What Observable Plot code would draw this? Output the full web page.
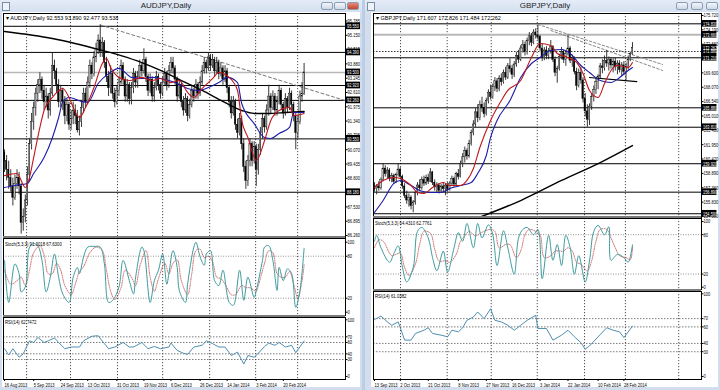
<!DOCTYPE html>
<html><head><meta charset="utf-8">
<script src="https://cdn.jsdelivr.net/npm/d3@7"></script>
<script src="https://cdn.jsdelivr.net/npm/@observablehq/plot@0.6"></script>
<style>
body{margin:0;width:720px;height:390px;overflow:hidden;background:#bccde4;font-family:"Liberation Sans",Arial,sans-serif;position:relative}
.a{position:absolute}
.win{position:absolute;top:0;height:390px;background:linear-gradient(#e4ecf7,#d2deee 14px,#d2deee)}
.title{position:absolute;top:0;height:12px;font-size:8px;text-align:center;line-height:12px;color:#1e1e1e}
.chart{position:absolute;background:#fff}
.hdr{position:absolute;font-size:5.5px;line-height:6px;color:#000;white-space:nowrap;transform-origin:0 0}
.sep{position:absolute;background:#7b7b7b}
.btn{position:absolute;top:2px;width:10px;height:6px;border:1px solid #8b9db3;border-radius:2px;background:linear-gradient(#f4f7fb,#cdd9e7)}
.ico{position:absolute;top:2px;width:6px;height:7px;border:1px solid #7d8fa8;background:#eef3f9}
svg{overflow:visible}
</style></head><body>
<script>
// ---------------- AUDJPY (left) ----------------
const audO = [89.94,89.56,89.18,88.81,88.44,87.94,88.56,88.81,88.44,86.82,
87.07,87.82,88.94,90.31,91.31,91.93,92.56,92.93,93.18,92.68,
92.18,92.43,91.81,92.56,93.80,93.55,92.93,92.18,92.68,92.18,
91.56,92.06,91.18,91.43,91.81,91.56,90.93,91.31,91.93,92.56,
92.18,93.05,93.80,93.43,94.17,94.55,94.92,94.42,94.80,93.93,
93.30,92.80,93.43,92.56,92.18,92.68,93.05,93.80,93.18,92.43,
92.93,92.31,92.80,93.43,93.05,93.30,93.80,93.55,94.05,93.30,
92.68,93.18,92.43,92.80,93.30,92.93,92.56,93.05,93.43,92.93,
93.55,93.93,93.68,93.18,92.43,92.93,92.18,91.81,92.31,91.56,
92.06,92.68,92.43,92.93,92.56,93.05,93.55,93.93,93.68,94.17,
93.80,94.05,93.55,93.93,93.43,93.68,93.18,93.55,92.80,92.18,
91.68,92.18,91.18,90.81,91.43,90.31,89.31,88.69,89.56,90.31,
89.56,90.18,89.18,90.06,90.81,91.43,91.06,91.81,92.43,91.93,
92.43,91.81,92.18,92.68,92.06,91.68,92.31,91.93,92.56,92.06,
91.56,90.81,91.31,92.43,92.55];
const audH = [90.06,89.81,89.56,89.18,88.81,88.94,89.18,89.06,88.56,87.44,
88.06,89.31,90.56,91.68,92.18,92.80,93.18,93.49,93.30,92.93,
92.80,92.56,92.80,94.36,94.05,93.68,93.18,92.93,92.80,92.43,
92.31,92.18,91.81,92.18,92.06,91.81,91.56,92.18,92.80,92.80,
93.30,94.05,93.93,94.42,94.80,95.17,95.61,95.05,94.92,94.17,
93.55,93.80,93.55,92.80,92.93,93.30,94.05,93.93,93.30,93.18,
93.05,93.05,93.68,93.55,93.55,94.05,93.93,94.55,94.17,93.43,
93.43,93.30,93.05,93.55,93.43,93.05,93.30,93.68,93.55,93.80,
94.17,94.17,93.80,93.30,93.18,93.05,92.43,92.56,92.43,92.31,
92.93,92.80,93.18,93.05,93.30,93.80,94.17,94.05,94.36,94.30,
94.30,94.17,94.17,94.05,93.93,93.80,93.80,93.68,92.93,92.43,
92.43,92.31,91.43,91.68,91.56,90.56,89.56,89.81,90.56,90.43,
90.43,90.31,90.31,91.06,91.68,91.56,92.06,92.93,92.56,92.68,
92.56,92.43,92.93,92.80,92.18,92.56,92.43,92.80,92.68,92.18,
91.68,91.56,92.68,93.05,93.90];
const audL = [89.06,88.69,88.31,88.19,87.57,87.82,88.31,88.06,86.32,86.45,
86.82,87.57,88.69,90.06,90.93,91.56,92.18,92.56,92.31,91.81,
91.93,91.43,91.56,92.43,93.18,92.56,91.93,91.93,91.81,91.18,
91.31,90.93,90.93,91.18,91.18,90.81,90.68,91.06,91.68,91.93,
92.06,92.80,93.18,93.30,93.93,94.30,94.17,94.17,93.68,93.05,
92.43,92.56,92.31,91.93,92.06,92.43,92.93,92.93,92.18,92.18,
92.06,92.06,92.56,92.80,92.80,93.18,93.30,93.43,93.05,92.43,
92.56,92.18,92.18,92.68,92.68,92.31,92.43,92.93,92.68,92.80,
93.43,93.43,92.93,92.18,92.31,91.93,91.56,91.68,91.31,91.43,
91.93,92.18,92.31,92.31,92.43,92.93,93.43,93.43,93.55,93.55,
93.68,93.30,93.43,93.18,93.30,92.93,93.05,92.56,91.93,91.43,
91.56,90.93,90.56,90.68,90.06,89.06,88.31,88.44,89.31,89.31,
89.43,88.44,88.94,89.81,90.56,90.81,90.93,91.56,91.68,91.81,
91.56,91.56,92.06,91.81,91.43,91.56,91.68,91.81,91.81,91.31,
90.06,90.56,91.18,92.18,92.48];
const audC = [89.56,89.18,88.81,88.44,87.94,88.56,88.81,88.44,86.82,87.07,
87.82,88.94,90.31,91.31,91.93,92.56,92.93,93.18,92.68,92.18,
92.43,91.81,92.56,93.80,93.55,92.93,92.18,92.68,92.18,91.56,
92.06,91.18,91.43,91.81,91.56,90.93,91.31,91.93,92.56,92.18,
93.05,93.80,93.43,94.17,94.55,94.92,94.42,94.80,93.93,93.30,
92.80,93.43,92.56,92.18,92.68,93.05,93.80,93.18,92.43,92.93,
92.31,92.80,93.43,93.05,93.30,93.80,93.55,94.05,93.30,92.68,
93.18,92.43,92.80,93.30,92.93,92.56,93.05,93.43,92.93,93.55,
93.93,93.68,93.18,92.43,92.93,92.18,91.81,92.31,91.56,92.06,
92.68,92.43,92.93,92.56,93.05,93.55,93.93,93.68,94.17,93.80,
94.05,93.55,93.93,93.43,93.68,93.18,93.55,92.80,92.18,91.68,
92.18,91.18,90.81,91.43,90.31,89.31,88.69,89.56,90.31,89.56,
90.18,89.18,90.06,90.81,91.43,91.06,91.81,92.43,91.93,92.43,
91.81,92.18,92.68,92.06,91.68,92.31,91.93,92.56,92.06,91.56,
90.81,91.31,92.43,92.55,93.50];
const audMaBlack = [[0,95.32],[23,95.01],[47,94.48],[56,94.25],[66,93.94],[75,93.59],[85,93.14],[95,92.70],[104,92.26],[114,91.81],[120,91.68],[127,91.68],[135,91.72],[144,91.77]];
const audMaRed = [[0,88.92],[6,89.01],[10,88.39],[12,88.84],[14,89.72],[17,91.06],[19,91.81],[23,92.39],[28,92.79],[31,92.39],[33,91.95],[36,91.50],[39,91.95],[43,92.83],[47,93.90],[49,94.12],[51,93.72],[55,93.28],[60,93.14],[66,93.28],[71,93.14],[75,93.23],[80,93.05],[84,93.14],[88,92.61],[91,92.39],[95,92.79],[100,93.23],[103,93.50],[108,93.28],[112,92.70],[114,91.37],[117,90.61],[121,89.59],[125,90.48],[128,91.37],[132,91.81],[137,91.95],[139,91.59],[144,91.68]];
const audMaBlue = [[0,88.39],[5,88.48],[11,88.57],[14,89.01],[19,89.72],[23,90.60],[26,91.50],[28,92.20],[31,92.39],[37,92.21],[40,92.17],[45,93.01],[50,93.45],[55,93.68],[61,93.28],[66,93.23],[71,93.28],[75,93.23],[82,93.05],[88,92.79],[93,92.70],[98,92.83],[103,93.05],[107,93.28],[112,93.05],[114,92.12],[120,91.23],[125,90.61],[128,90.57],[132,90.79],[137,91.06],[139,91.72],[144,91.72]];
const audTrend = [[46,95.61],[163.5,92.26]];
const audLevels = [95.55, 94.39, 92.92, 92.26, 90.55, 88.18];
const audBid = 93.50;
const audTicks = [86.260,86.895,87.530,88.800,89.435,90.070,90.705,91.340,91.975,92.610,93.245,93.880,94.515,95.150,95.785];
const audStochK = [[0,74],[2,14],[5,69],[7,55],[8,29],[10,36],[12,93],[14,98],[16,95],[18,74],[20,29],[22,50],[24,83],[26,50],[28,26],[31,14],[33,50],[35,64],[36,55],[38,79],[40,93],[43,94],[46,93],[48,69],[50,14],[52,17],[55,36],[57,74],[60,45],[62,26],[63,50],[66,93],[67,88],[70,14],[72,45],[74,60],[76,83],[78,40],[79,55],[81,88],[83,64],[84,31],[87,14],[88,40],[91,93],[92,100],[94,79],[96,67],[97,83],[99,88],[101,45],[103,38],[105,60],[108,14],[110,10],[113,60],[115,17],[117,50],[120,21],[121,31],[124,74],[125,93],[127,95],[129,74],[131,31],[132,64],[134,45],[136,62],[138,55],[140,7],[142,31],[144,91.3]];
const audStochD = [[0,60],[3,40],[6,45],[8,50],[10,38],[12,60],[14,85],[17,95],[19,82],[21,55],[23,55],[25,70],[27,60],[29,38],[32,25],[34,40],[36,58],[38,65],[41,85],[44,93],[47,88],[49,60],[51,30],[53,18],[56,35],[58,60],[61,50],[63,38],[65,65],[68,88],[70,50],[72,30],[74,48],[77,70],[79,55],[81,70],[83,75],[85,45],[88,25],[90,55],[92,88],[94,90],[96,78],[98,80],[100,72],[102,50],[104,48],[106,40],[109,25],[111,25],[114,38],[116,35],[118,35],[121,30],[122,38],[125,70],[127,88],[129,85],[131,55],[133,50],[135,50],[137,58],[139,40],[141,20],[143,45],[144,67.6]];
const audRsi = [[0,49],[2,38],[4,49],[7,34],[9,40],[12,63],[14,60],[16,69],[19,60],[21,63],[24,68],[26,60],[29,49],[32,52],[36,52],[38,63],[42,71],[45,72],[48,58],[50,49],[53,52],[57,60],[60,52],[62,52],[66,60],[69,49],[72,53],[75,49],[79,52],[80,59],[83,46],[86,41],[88,39],[91,52],[95,55],[97,63],[100,58],[103,52],[106,52],[109,37],[112,43],[115,22],[117,37],[120,34],[122,41],[125,53],[127,59],[130,55],[132,60],[135,52],[138,55],[140,42],[144,62.7]];
const audGrid = [10.6,31.7,54.3,76,98.6,120.7,140.9];
const audDateIdx = [0,14,27,40,54,67,80,94,107,121,134];
const audDateLabels = ["16 Aug 2013","5 Sep 2013","24 Sep 2013","13 Oct 2013","31 Oct 2013","19 Nov 2013","6 Dec 2013","26 Dec 2013","14 Jan 2014","3 Feb 2014","20 Feb 2014"];

// ---------------- GBPJPY (right) ----------------
const gbpO = [157.6,157.2,157.5,157.3,158.2,159.4,158.8,159.2,158.3,158.6,
158.0,158.7,159.3,158.5,157.5,156.5,156.0,156.3,155.4,155.8,
156.8,157.6,157.3,158.2,157.8,158.4,158.0,159.0,157.9,157.4,
157.6,157.0,157.5,157.2,157.6,157.1,157.8,158.3,157.7,158.8,
158.5,159.9,160.6,161.3,160.7,162.0,163.2,164.1,165.4,164.8,
166.2,165.9,165.2,166.6,167.5,167.0,168.1,168.7,167.9,169.0,
168.6,169.6,169.1,170.3,170.0,169.4,170.5,171.4,171.0,172.2,
172.6,171.8,173.0,173.5,172.8,173.9,173.6,173.4,172.2,171.2,
172.0,171.4,171.9,172.4,171.0,169.6,170.0,171.3,171.8,171.0,
171.6,172.2,170.9,171.2,169.7,168.2,169.6,168.8,166.8,165.5,
164.6,166.0,167.0,167.8,168.6,169.2,170.3,170.1,170.9,170.6,
171.0,170.4,170.8,170.2,170.6,169.9,170.4,169.7,170.2,171.0,
171.607];
const gbpH = [157.9,157.7,158.0,158.4,159.9,159.7,159.5,159.4,158.9,158.8,
158.9,159.9,159.5,158.7,157.8,157.0,156.7,156.5,156.0,157.0,
157.9,158.2,158.5,158.6,158.7,158.8,159.4,159.1,158.2,157.9,
157.8,157.7,157.9,157.8,157.9,158.0,158.6,158.5,159.0,159.3,
160.2,161.0,161.7,161.5,162.4,163.5,164.5,165.8,166.2,166.6,
167.0,166.4,166.9,167.8,168.3,168.4,169.1,169.0,169.3,169.5,
169.9,170.2,170.6,171.1,170.4,170.8,171.8,172.0,172.5,173.05,
172.9,173.3,173.9,173.8,174.2,174.3,174.65,173.6,172.7,172.3,
172.4,172.2,173.05,172.5,171.3,170.3,171.6,172.3,172.0,171.9,
173.6,172.4,171.5,171.3,170.1,170.0,170.2,169.1,167.4,166.2,
166.3,167.4,168.2,169.1,169.4,170.6,171.0,171.4,172.0,171.3,
171.2,171.1,171.2,170.9,170.9,170.7,170.8,170.6,171.4,171.8,
172.826];
const gbpL = [156.9,156.6,157.0,157.1,158.0,158.5,158.3,158.0,157.9,157.7,
157.8,158.5,158.2,157.2,156.2,155.6,155.3,155.0,154.7,155.5,
156.5,157.0,157.1,157.5,157.6,157.7,157.9,157.6,157.0,156.8,
156.7,156.8,156.9,156.5,156.9,157.0,157.5,157.4,157.6,158.2,
158.4,159.5,160.0,160.3,160.5,161.8,162.9,163.8,164.3,164.5,
165.4,164.8,165.0,166.3,166.7,166.8,167.6,167.5,167.6,168.2,
168.4,168.8,168.9,169.6,168.9,169.1,170.2,170.6,170.8,171.7,
171.4,171.5,172.5,172.4,172.6,173.2,173.1,171.9,170.8,170.9,
171.0,171.0,171.6,170.7,169.2,168.5,169.8,171.0,170.6,170.3,
171.4,170.6,170.2,169.4,167.7,168.0,168.4,166.4,164.9,163.8,
164.0,165.6,166.5,167.3,167.8,168.9,169.5,169.8,170.2,169.8,
170.0,169.6,169.8,169.4,169.6,169.2,169.3,168.8,169.9,170.8,
171.484];
const gbpC = [157.2,157.5,157.3,158.2,159.4,158.8,159.2,158.3,158.6,158.0,
158.7,159.3,158.5,157.5,156.5,156.0,156.3,155.4,155.8,156.8,
157.6,157.3,158.2,157.8,158.4,158.0,159.0,157.9,157.4,157.6,
157.0,157.5,157.2,157.6,157.1,157.8,158.3,157.7,158.8,158.5,
159.9,160.6,161.3,160.7,162.0,163.2,164.1,165.4,164.8,166.2,
165.9,165.2,166.6,167.5,167.0,168.1,168.7,167.9,169.0,168.6,
169.6,169.1,170.3,170.0,169.4,170.5,171.4,171.0,172.2,172.6,
171.8,173.0,173.5,172.8,173.9,173.6,173.4,172.2,171.2,172.0,
171.4,171.9,172.4,171.0,169.6,170.0,171.3,171.8,171.0,171.6,
172.2,170.9,171.2,169.7,168.2,169.6,168.8,166.8,165.5,164.6,
166.0,167.0,167.8,168.6,169.2,170.3,170.1,170.9,170.6,171.0,
170.4,170.8,170.2,170.6,169.9,170.4,169.7,170.2,171.0,171.6,
172.262];
const gbpMaRed = [[0,157.39],[4,158.14],[9,158.46],[12,158.35],[17,157.60],[20,156.86],[23,156.75],[27,157.39],[32,157.92],[35,157.60],[40,157.60],[43,158.14],[46,159.41],[49,161.65],[54,164.53],[59,166.66],[62,167.73],[68,168.79],[73,171.24],[77,172.73],[82,172.52],[85,171.67],[90,171.24],[94,170.71],[97,169.54],[100,167.73],[104,166.98],[107,168.47],[110,169.86],[113,170.39],[118,170.18],[120,170.71]];
const gbpMaBlue = [[0,154.73],[4,156.00],[9,157.82],[12,158.14],[17,157.60],[21,157.07],[26,156.86],[31,156.86],[35,157.28],[40,157.60],[45,157.92],[48,158.88],[52,160.80],[54,162.72],[57,164.53],[63,166.66],[68,169.11],[73,170.60],[77,171.24],[82,171.99],[87,172.09],[91,171.67],[96,170.39],[100,169.64],[105,168.79],[110,168.58],[114,169.11],[118,169.86],[120,170.18]];
const gbpMaBlack = [[49,154.23],[68,156.00],[87,158.14],[105,160.05],[120,161.86]];
const gbpSupport = [[100,169.11],[122,168.68]];
const gbpTrendA = [[76,174.76],[134,170.50]];
const gbpTrendB = [[82,174.12],[134,169.86]];
const gbpLevels = [174.83, 171.21, 165.88, 163.81, 159.92, 156.89, 154.59];
const gbpGreyLevel = 173.66;
const gbpDotLevel = 171.88;
const gbpBid = 172.262;
const gbpTicks = [154.300,155.830,157.360,158.890,160.420,161.950,163.480,165.010,166.540,168.070,169.600,172.660,174.190,175.720];
const gbpStochK = [[0,70],[1,79],[3,60],[7,38],[9,51],[11,63],[13,30],[15,8],[18,30],[20,85],[22,91],[25,75],[27,45],[29,25],[32,55],[34,23],[37,60],[39,83],[41,70],[43,97],[46,60],[48,97],[50,75],[53,95],[55,80],[57,33],[60,86],[62,60],[65,20],[67,75],[69,88],[71,91],[74,80],[76,88],[78,13],[81,79],[83,41],[85,65],[87,33],[89,79],[91,60],[93,20],[95,48],[98,8],[100,40],[102,85],[104,94],[107,80],[109,92],[110,41],[113,50],[116,45],[118,38],[120,64.4]];
const gbpStochD = [[0,60],[2,72],[4,70],[8,48],[10,50],[12,52],[14,30],[16,18],[19,35],[21,65],[23,85],[26,82],[28,58],[30,40],[33,40],[35,38],[38,50],[40,70],[42,78],[44,85],[47,78],[49,82],[51,85],[54,88],[56,85],[58,60],[61,65],[63,65],[66,45],[68,55],[70,80],[72,88],[75,85],[77,80],[79,45],[82,48],[84,55],[86,55],[88,55],[90,60],[92,55],[94,38],[96,35],[99,25],[101,40],[103,70],[105,88],[108,88],[110,75],[112,60],[114,48],[117,45],[119,42],[120,62.8]];
const gbpRsi = [[0,69],[3,73],[6,66],[8,62],[11,66],[12,59],[14,44],[17,44],[19,52],[23,56],[25,59],[27,52],[31,50],[34,48],[36,56],[39,54],[41,59],[43,68],[46,72],[48,78],[51,70],[54,82],[56,68],[59,66],[62,62],[65,56],[68,62],[71,68],[75,74],[76,58],[80,58],[83,44],[87,50],[90,56],[93,48],[96,41],[98,33],[100,37],[104,48],[108,59],[111,56],[114,54],[116,47],[118,54],[120,61]];
const gbpGrid = [12.1,33.8,54.3,75.7,97.7,116.7,141.5];
const gbpDateIdx = [0,12,25,39,52,64,77,90,104,116];
const gbpDateLabels = ["13 Sep 2013","2 Oct 2013","21 Oct 2013","8 Nov 2013","27 Nov 2013","16 Dec 2013","3 Jan 2014","22 Jan 2014","10 Feb 2014","28 Feb 2014"];

const stochLevels = [20, 80];
const stochTicks = [0, 20, 80, 100];
const rsiLevels = [30, 40, 60, 70];
const rsiTicks = [0, 30, 40, 60, 70, 100];

// ---------------- helpers ----------------
const FONT = "Liberation Sans, Arial, sans-serif";
function el(tag, cls, css, text, parent = document.body) {
  const e = document.createElement(tag);
  if (cls) e.className = cls;
  if (css) e.style.cssText = css;
  if (text != null) e.textContent = text;
  parent.appendChild(e);
  return e;
}
// MT4-like narrow lettering: compress each axis / box label horizontally about its anchor
function condense(svg, k = 0.7) {
  svg.querySelectorAll('g[aria-label$="tick label"] text, g[aria-label="text"] text').forEach(t => {
    let tr = t.getAttribute("transform");
    if (!tr) {
      const x = t.getAttribute("x") || 0, y = t.getAttribute("y") || 0;
      t.removeAttribute("x"); t.removeAttribute("y");
      tr = `translate(${x},${y})`;
    }
    t.setAttribute("transform", `${tr} scale(${k},1)`);
  });
  return svg;
}
function place(node, left, top) {
  const d = el("div", "a", `left:${left}px;top:${top}px;`);
  d.appendChild(condense(node));
}
function base(o) {
  return Plot.plot({
    width: o.w, height: o.h,
    marginLeft: 0, marginRight: o.mr, marginTop: 0, marginBottom: o.mb || 0,
    x: o.xAxis ? {domain: o.xd} : {domain: o.xd, axis: null},
    y: {domain: o.yd},
    style: {background: "transparent", fontFamily: FONT, fontSize: "5.8px", color: "#000", overflow: "visible"},
    marks: o.marks
  });
}
function grid(g) {
  return Plot.ruleX(g, {stroke: "#000", strokeWidth: 0.7, strokeDasharray: "1.2,1.8"});
}
function boxes(vals, xEnd, halfH) {
  const data = vals.map(v => ({v}));
  return [
    Plot.rect(data, {x1: xEnd + 0.3, x2: xEnd + 7.2, y1: d => d.v - halfH, y2: d => d.v + halfH, fill: "#000"}),
    Plot.text(data, {x: xEnd + 0.7, y: "v", text: d => d.v.toFixed(3), fill: "#fff", textAnchor: "start", fontSize: 5.6})
  ];
}
function candles(O, H, L, C) {
  const bars = O.map((o, i) => ({i, o, h: H[i], l: L[i], c: C[i]}));
  return [
    Plot.ruleX(bars, {x: "i", y1: "l", y2: "h", stroke: "#222", strokeWidth: 0.9}),
    Plot.rect(bars, {x1: d => d.i - 0.32, x2: d => d.i + 0.32, y1: "o", y2: "c",
      fill: d => (d.c >= d.o ? "#cfcfcf" : "#000"), stroke: "#000", strokeWidth: 0.4})
  ];
}
function pline(pts, opts) {
  return Plot.line(pts, {x: d => d[0], y: d => d[1], ...opts});
}

// ---------------- window chrome ----------------
function windowChrome(x, w, title, titleW, btnX, activeClose) {
  el("div", "win", `left:${x}px;width:${w}px;`);
  el("div", "ico", `left:${x + 2}px;`);
  el("div", "title", `left:${x}px;width:${titleW}px;`, title);
  btnX.forEach((bx, k) => {
    const b = el("div", "btn", `left:${bx}px;`);
    if (k === 2 && activeClose) b.style.background = "linear-gradient(#e88a7c,#c2452f)";
  });
}
windowChrome(0, 362, "AUDJPY,Daily", 332, [321, 334, 347], true);
windowChrome(365, 355, "GBPJPY,Daily", 360, [676, 691, 706], false);
el("div", "chart", "left:2px;top:12px;width:358px;height:375px;");
el("div", "chart", "left:371px;top:12px;width:347px;height:375px;");

const yAx = {anchor: "right", tickSize: 1.5, tickPadding: 0.5, fontSize: 5.8};
const xAx = {tickSize: 2, tickPadding: 1, textAnchor: "start", fontSize: 5.8};

// ---------------- AUDJPY panels ----------------
const audXd = [-0.5, 163.9];
const audEnd = 163.9;
place(base({w: 357, h: 224, mr: 15, xd: audXd, yd: [86.171, 96.118], marks: [
  grid(audGrid),
  Plot.ruleY(audLevels, {stroke: "#000", strokeWidth: 1}),
  Plot.ruleY([audBid], {stroke: "#b8b8b8", strokeWidth: 1.5}),
  pline(audTrend, {stroke: "#777", strokeWidth: 1, strokeDasharray: "3,2.5"}),
  ...candles(audO, audH, audL, audC),
  pline(audMaBlack, {stroke: "#000", strokeWidth: 1.4, curve: "monotone-x"}),
  pline(audMaBlue, {stroke: "#1c1ca8", strokeWidth: 1.1, curve: "monotone-x"}),
  pline(audMaRed, {stroke: "#c0171b", strokeWidth: 1.1, curve: "monotone-x"}),
  Plot.frame({stroke: "#000", strokeWidth: 1}),
  Plot.axisY({...yAx, ticks: audTicks, tickFormat: d => d.toFixed(3)}),
  ...boxes([...audLevels, audBid], audEnd, 0.15)
]}), 3, 13);

place(base({w: 357, h: 77, mr: 15, xd: audXd, yd: [-4.7, 105.3], marks: [
  grid(audGrid),
  Plot.ruleY(stochLevels, {stroke: "#666", strokeWidth: 0.7, strokeDasharray: "1,1.5"}),
  pline(audStochD, {stroke: "#c65b5b", strokeWidth: 0.9, strokeDasharray: "1,1.3", curve: "catmull-rom"}),
  pline(audStochK, {stroke: "#3f9b9e", strokeWidth: 1, curve: "catmull-rom"}),
  Plot.frame({stroke: "#000", strokeWidth: 1}),
  Plot.axisY({...yAx, ticks: stochTicks})
]}), 3, 238);

place(base({w: 357, h: 73, mr: 15, mb: 11, xd: audXd, xAxis: true, yd: [-5.3, 104.1], marks: [
  grid(audGrid),
  Plot.ruleY(rsiLevels, {stroke: "#444", strokeWidth: 0.7, strokeDasharray: "1.5,1.5"}),
  pline(audRsi, {stroke: "#4f8fb0", strokeWidth: 1}),
  Plot.frame({stroke: "#000", strokeWidth: 1}),
  Plot.axisY({...yAx, ticks: rsiTicks}),
  Plot.axisX({...xAx, ticks: audDateIdx, tickFormat: d => audDateLabels[audDateIdx.indexOf(d)]})
]}), 3, 317);

el("div", "sep", "left:3px;top:236px;width:342px;height:2px;");
el("div", "sep", "left:3px;top:315px;width:342px;height:2px;");
el("div", "hdr", "left:6px;top:15px;", "\u25BE AUDJPY,Daily 92.553 93.890 92.477 93.538");
el("div", "hdr", "left:5px;top:241px;transform:scaleX(0.78)", "Stoch(5,3,3) 91.3018 67.6300");
el("div", "hdr", "left:5px;top:319px;transform:scaleX(0.78)", "RSI(14) 62.7472");

// ---------------- GBPJPY panels ----------------
const gbpXd = [-0.47, 152.1];
const gbpEnd = 152.1;
place(base({w: 346, h: 204, mr: 18, xd: gbpXd, yd: [154.19, 175.93], marks: [
  grid(gbpGrid),
  Plot.ruleY(gbpLevels, {stroke: "#000", strokeWidth: 1}),
  Plot.ruleY([gbpGreyLevel], {stroke: "#b8b8b8", strokeWidth: 2}),
  Plot.ruleY([gbpDotLevel], {stroke: "#000", strokeWidth: 0.8, strokeDasharray: "1.5,1.5"}),
  pline(gbpTrendA, {stroke: "#888", strokeWidth: 1, strokeDasharray: "2.5,2"}),
  pline(gbpTrendB, {stroke: "#888", strokeWidth: 1, strokeDasharray: "2.5,2"}),
  ...candles(gbpO, gbpH, gbpL, gbpC),
  pline(gbpMaBlack, {stroke: "#000", strokeWidth: 1.4, curve: "monotone-x"}),
  pline(gbpSupport, {stroke: "#000", strokeWidth: 1.2}),
  pline(gbpMaBlue, {stroke: "#1c1ca8", strokeWidth: 1.1, curve: "monotone-x"}),
  pline(gbpMaRed, {stroke: "#c0171b", strokeWidth: 1.1, curve: "monotone-x"}),
  Plot.frame({stroke: "#000", strokeWidth: 1}),
  Plot.axisY({...yAx, ticks: gbpTicks, tickFormat: d => d.toFixed(3)}),
  ...boxes([gbpLevels[0], gbpGreyLevel, gbpBid, gbpDotLevel, ...gbpLevels.slice(1)], gbpEnd, 0.35)
]}), 373, 13);

place(base({w: 346, h: 71, mr: 18, xd: gbpXd, yd: [-3.5, 104.6], marks: [
  grid(gbpGrid),
  Plot.ruleY(stochLevels, {stroke: "#666", strokeWidth: 0.7, strokeDasharray: "1,1.5"}),
  pline(gbpStochD, {stroke: "#c65b5b", strokeWidth: 0.9, strokeDasharray: "1,1.3", curve: "catmull-rom"}),
  pline(gbpStochK, {stroke: "#3f9b9e", strokeWidth: 1, curve: "catmull-rom"}),
  Plot.frame({stroke: "#000", strokeWidth: 1}),
  Plot.axisY({...yAx, ticks: stochTicks})
]}), 373, 218);

place(base({w: 346, h: 99, mr: 18, mb: 11, xd: gbpXd, xAxis: true, yd: [-3.6, 102.8], marks: [
  grid(gbpGrid),
  Plot.ruleY(rsiLevels, {stroke: "#444", strokeWidth: 0.7, strokeDasharray: "1.5,1.5"}),
  pline(gbpRsi, {stroke: "#4f8fb0", strokeWidth: 1}),
  Plot.frame({stroke: "#000", strokeWidth: 1}),
  Plot.axisY({...yAx, ticks: rsiTicks}),
  Plot.axisX({...xAx, ticks: gbpDateIdx, tickFormat: d => gbpDateLabels[gbpDateIdx.indexOf(d)]})
]}), 373, 291);

el("div", "sep", "left:373px;top:216px;width:328px;height:2px;");
el("div", "sep", "left:373px;top:289px;width:328px;height:2px;");
el("div", "hdr", "left:376px;top:15px;", "\u25BE GBPJPY,Daily 171.607 172.826 171.484 172.262");
el("div", "hdr", "left:375px;top:220px;transform:scaleX(0.78)", "Stoch(5,3,3) 64.4310 62.7761");
el("div", "hdr", "left:375px;top:293px;transform:scaleX(0.78)", "RSI(14) 61.0382");
</script>
</body></html>
